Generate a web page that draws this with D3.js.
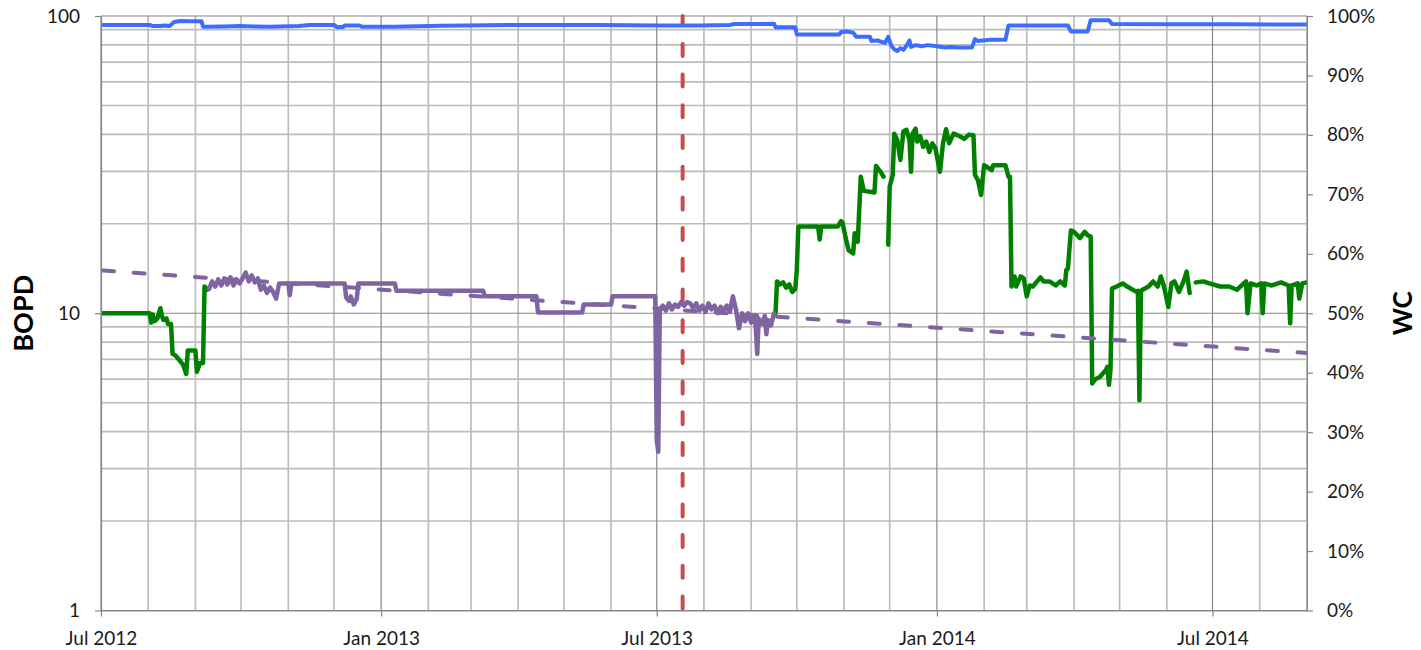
<!DOCTYPE html>
<html><head><meta charset="utf-8">
<script src="https://cdn.jsdelivr.net/npm/d3@7"></script>
<style>
body{margin:0;background:#fff;}
svg{display:block;font-family:Lato,"Liberation Sans",sans-serif;}
</style>
</head><body>
<svg id="chart" width="1421" height="650"></svg>
<script>
// ---------------- DATA ----------------
const xDomain = ["2012-07-01", "2014-09-01"];
const xMajorTicks = ["2012-07-01", "2013-01-01", "2013-07-01", "2014-01-01", "2014-07-01"];
const leftTicks = [1, 10, 100];
const rightTicks = [0, 0.1, 0.2, 0.3, 0.4, 0.5, 0.6, 0.7, 0.8, 0.9, 1.0];
const leftTitle = "BOPD";
const rightTitle = "WC";
const markerDate = "2013-07-18";

// Oil rate (green), BOPD, log axis; null = gap
const greenBopd = [
["2012-07-01",10.0],["2012-08-02",10.0],["2012-08-03",9.3],["2012-08-04",9.9],["2012-08-05",9.4],
["2012-08-07",9.6],["2012-08-09",10.4],["2012-08-10",9.8],["2012-08-11",9.5],["2012-08-13",9.6],
["2012-08-14",9.2],["2012-08-16",9.2],["2012-08-17",7.3],["2012-08-19",7.2],["2012-08-21",7.0],
["2012-08-22",6.9],["2012-08-24",6.7],["2012-08-26",6.25],["2012-08-27",7.5],["2012-09-01",7.5],
["2012-09-02",6.35],["2012-09-04",6.8],["2012-09-06",6.8],["2012-09-07",12.3],["2012-09-09",12.0],
["2012-09-10",12.1],["2012-09-11",null],
["2013-09-17",10.0],["2013-09-18",12.8],["2013-09-20",12.5],["2013-09-22",12.7],["2013-09-24",12.2],
["2013-09-26",12.5],["2013-09-28",11.8],["2013-09-30",12.1],["2013-10-01",14.0],["2013-10-02",19.6],
["2013-10-15",19.6],["2013-10-16",17.7],["2013-10-17",19.6],["2013-10-28",19.6],["2013-10-30",20.4],
["2013-10-31",20.2],["2013-11-02",18.0],["2013-11-04",16.3],["2013-11-07",15.9],["2013-11-08",18.6],
["2013-11-10",17.4],["2013-11-12",28.8],["2013-11-14",25.8],["2013-11-21",25.5],["2013-11-22",31.3],
["2013-11-25",29.9],["2013-11-27",28.8],["2013-11-28",null],
["2013-11-30",17.0],["2013-12-01",26.7],["2013-12-03",29.2],["2013-12-04",40.2],["2013-12-06",38.2],
["2013-12-08",32.8],["2013-12-10",40.9],["2013-12-12",41.4],["2013-12-14",38.2],["2013-12-15",29.9],
["2013-12-16",40.2],["2013-12-18",41.8],["2013-12-19",37.8],["2013-12-21",39.4],["2013-12-23",36.3],
["2013-12-25",37.8],["2013-12-27",34.9],["2013-12-29",37.3],["2013-12-31",35.9],["2014-01-03",29.9],
["2014-01-05",37.3],["2014-01-07",41.6],["2014-01-09",37.3],["2014-01-12",40.2],["2014-01-16",39.4],
["2014-01-19",38.6],["2014-01-22",39.9],["2014-01-25",39.7],["2014-01-26",29.2],["2014-01-28",28.0],
["2014-01-30",25.0],["2014-02-01",31.5],["2014-02-06",30.3],["2014-02-07",31.5],["2014-02-15",31.5],
["2014-02-17",28.8],["2014-02-18",28.8],["2014-02-19",12.3],["2014-02-21",13.3],["2014-02-22",12.3],
["2014-02-25",13.3],["2014-02-27",13.1],["2014-03-01",11.4],["2014-03-03",12.4],["2014-03-05",12.3],
["2014-03-10",13.2],["2014-03-12",12.8],["2014-03-16",12.8],["2014-03-20",12.4],["2014-03-23",12.8],
["2014-03-26",12.4],["2014-03-27",14.0],["2014-03-28",14.1],["2014-03-30",19.0],["2014-04-01",18.8],
["2014-04-05",17.9],["2014-04-08",18.8],["2014-04-10",18.3],["2014-04-12",18.1],["2014-04-13",5.8],
["2014-04-15",6.0],["2014-04-18",6.1],["2014-04-22",6.45],["2014-04-23",6.6],["2014-04-24",5.75],
["2014-04-25",6.45],["2014-04-26",12.1],["2014-04-29",12.3],["2014-05-03",12.6],["2014-05-06",12.3],
["2014-05-12",11.8],["2014-05-13",11.9],["2014-05-14",5.1],["2014-05-15",11.9],["2014-05-20",12.3],
["2014-05-23",12.8],["2014-05-26",12.3],["2014-05-28",13.3],["2014-05-30",12.4],["2014-06-02",10.5],
["2014-06-04",12.6],["2014-06-06",12.8],["2014-06-09",11.8],["2014-06-12",12.8],["2014-06-14",13.8],
["2014-06-16",11.7],["2014-06-18",null],
["2014-06-20",12.7],["2014-06-25",12.8],["2014-06-29",12.6],["2014-07-06",12.3],["2014-07-12",12.3],
["2014-07-17",12.0],["2014-07-23",12.8],["2014-07-24",10.0],["2014-07-26",12.6],["2014-07-30",12.4],
["2014-08-02",12.6],["2014-08-03",10.0],["2014-08-04",12.6],["2014-08-09",12.4],["2014-08-15",12.7],
["2014-08-20",12.4],["2014-08-21",9.25],["2014-08-22",12.4],["2014-08-26",12.6],["2014-08-27",11.2],
["2014-08-29",12.6],["2014-09-01",12.7]
];

// Oil rate (purple), BOPD, log axis
const purpleBopd = [
["2012-09-10",12.1],["2012-09-12",12.8],["2012-09-14",12.3],["2012-09-16",13.0],["2012-09-18",12.4],
["2012-09-20",13.1],["2012-09-22",12.5],["2012-09-24",13.2],["2012-09-26",12.4],["2012-09-28",13.0],
["2012-09-30",12.6],["2012-10-02",13.1],["2012-10-04",13.7],["2012-10-06",12.8],["2012-10-08",13.4],
["2012-10-10",12.7],["2012-10-12",13.1],["2012-10-14",12.0],["2012-10-16",12.4],["2012-10-18",11.7],
["2012-10-20",12.2],["2012-10-22",11.8],["2012-10-24",11.2],["2012-10-26",12.6],["2012-11-01",12.6],
["2012-11-02",11.5],["2012-11-03",12.6],["2012-12-08",12.6],["2012-12-09",11.3],["2012-12-11",11.0],
["2012-12-12",11.4],["2012-12-14",10.7],["2012-12-16",11.2],["2012-12-17",12.6],["2013-01-10",12.6],
["2013-01-11",11.9],["2013-03-09",11.9],["2013-03-10",11.4],["2013-04-13",11.4],["2013-04-14",10.05],
["2013-05-13",10.05],["2013-05-14",10.7],["2013-06-01",10.7],["2013-06-02",11.4],["2013-06-30",11.4],
["2013-07-01",3.75],["2013-07-02",3.42],["2013-07-03",10.3],["2013-07-05",10.6],["2013-07-07",10.2],
["2013-07-09",10.8],["2013-07-11",10.3],["2013-07-13",10.7],["2013-07-15",10.5],["2013-07-17",10.9],
["2013-07-19",10.6],["2013-07-21",10.9],["2013-07-23",10.8],["2013-07-25",10.4],["2013-07-27",10.8],
["2013-07-29",10.2],["2013-07-31",10.6],["2013-08-02",10.1],["2013-08-04",10.8],["2013-08-06",10.3],
["2013-08-08",10.6],["2013-08-10",10.0],["2013-08-12",10.5],["2013-08-14",10.2],["2013-08-16",10.6],
["2013-08-18",10.1],["2013-08-20",11.4],["2013-08-22",10.3],["2013-08-24",8.9],["2013-08-26",10.0],
["2013-08-28",9.4],["2013-08-30",10.0],["2013-09-01",9.3],["2013-09-03",9.8],["2013-09-04",9.0],
["2013-09-05",7.3],["2013-09-06",9.6],["2013-09-08",9.2],["2013-09-10",9.8],["2013-09-11",8.5],
["2013-09-12",9.5],["2013-09-14",9.1],["2013-09-16",10.0]
];

// Exponential decline trend (dashed purple)
const trendBopd = [["2012-07-01",13.93],["2014-09-01",7.35]];

// Water cut (blue), right axis, fraction
const waterCut = [
["2012-07-01",0.985],["2012-08-02",0.985],["2012-08-04",0.983],["2012-08-09",0.983],["2012-08-12",0.984],
["2012-08-15",0.983],["2012-08-18",0.990],["2012-08-22",0.9915],["2012-08-28",0.991],["2012-09-05",0.991],
["2012-09-06",0.982],["2012-09-20",0.9825],["2012-09-30",0.983],["2012-10-10",0.9825],["2012-10-20",0.982],
["2012-11-08",0.983],["2012-11-15",0.985],["2012-12-01",0.985],["2012-12-03",0.9815],["2012-12-07",0.9815],
["2012-12-08",0.984],["2012-12-18",0.984],["2012-12-19",0.982],["2013-01-10",0.982],["2013-02-10",0.9835],
["2013-03-31",0.985],["2013-05-24",0.985],["2013-07-01",0.984],["2013-07-29",0.984],["2013-08-18",0.985],
["2013-08-21",0.9865],["2013-09-05",0.9865],["2013-09-16",0.987],["2013-09-17",0.981],["2013-09-30",0.981],
["2013-10-01",0.969],["2013-10-29",0.969],["2013-10-30",0.973],["2013-11-03",0.974],["2013-11-07",0.972],
["2013-11-09",0.965],["2013-11-18",0.965],["2013-11-19",0.958],["2013-11-23",0.959],["2013-11-26",0.956],
["2013-11-28",0.955],["2013-11-30",0.965],["2013-12-02",0.950],["2013-12-04",0.944],["2013-12-06",0.941],
["2013-12-08",0.946],["2013-12-10",0.943],["2013-12-12",0.950],["2013-12-14",0.959],["2013-12-15",0.948],
["2013-12-18",0.951],["2013-12-22",0.949],["2013-12-26",0.951],["2014-01-01",0.949],["2014-01-06",0.947],
["2014-01-10",0.948],["2014-01-16",0.947],["2014-01-24",0.947],["2014-01-26",0.961],["2014-01-28",0.958],
["2014-02-05",0.960],["2014-02-15",0.960],["2014-02-17",0.984],["2014-03-28",0.984],["2014-03-30",0.974],
["2014-04-10",0.974],["2014-04-12",0.993],["2014-04-24",0.993],["2014-04-26",0.9865],["2014-06-01",0.9862],
["2014-07-15",0.986],["2014-09-01",0.9855]
];

// ---------------- CHART ----------------
const parse = d3.utcParse("%Y-%m-%d");
const P = {l: 101, t: 16, r: 1306.9, b: 610.5};
const svg = d3.select("#chart");

const x = d3.scaleUtc().domain(xDomain.map(parse)).range([P.l, P.r]);
const yL = d3.scaleLog().domain([1, 100]).range([P.b, P.t]);
const yR = d3.scaleLinear().domain([0, 1]).range([P.b, P.t]);

const minorC = "#bcbcbc", majorC = "#888888", axisC = "#868686";

svg.append("defs").append("clipPath").attr("id", "plot")
  .append("rect").attr("x", P.l).attr("y", P.t - 3).attr("width", P.r - P.l).attr("height", P.b - P.t + 3);

// grid
const grid = svg.append("g");
const months = d3.utcMonth.range(parse(xDomain[0]), d3.utcDay.offset(parse(xDomain[1]), 1));
const isMajorMonth = d => d.getUTCMonth() % 6 === 0;
const logVals = [];
[1, 10].forEach(dec => { for (let k = 1; k <= 9; k++) logVals.push(dec * k); });
logVals.push(100);
const isMajorLog = v => v === 1 || v === 10 || v === 100;

grid.selectAll("line.hmin").data(logVals.filter(v => !isMajorLog(v))).join("line")
  .attr("x1", P.l).attr("x2", P.r).attr("y1", d => yL(d)).attr("y2", d => yL(d))
  .attr("stroke", minorC).attr("stroke-width", 1.7);
grid.selectAll("line.vmin").data(months.filter(d => !isMajorMonth(d))).join("line")
  .attr("x1", d => x(d)).attr("x2", d => x(d)).attr("y1", P.t).attr("y2", P.b)
  .attr("stroke", minorC).attr("stroke-width", 1.7);
grid.selectAll("line.hmaj").data(logVals.filter(isMajorLog)).join("line")
  .attr("x1", P.l).attr("x2", P.r).attr("y1", d => yL(d)).attr("y2", d => yL(d))
  .attr("stroke", majorC).attr("stroke-width", 1.2);
grid.selectAll("line.vmaj").data(months.filter(isMajorMonth)).join("line")
  .attr("x1", d => x(d)).attr("x2", d => x(d)).attr("y1", P.t).attr("y2", P.b)
  .attr("stroke", majorC).attr("stroke-width", 1.2);

const plot = svg.append("g").attr("clip-path", "url(#plot)");

// red marker line (drawn bottom to top)
plot.append("line")
  .attr("x1", x(parse(markerDate))).attr("x2", x(parse(markerDate)))
  .attr("y1", yL(1)).attr("y2", yL(100))
  .attr("stroke", "#C0504D").attr("stroke-width", 4)
  .attr("stroke-linecap", "round").attr("stroke-dasharray", "12,18.7").attr("stroke-dashoffset", -2);

const lineL = d3.line().defined(d => d[1] != null).x(d => x(parse(d[0]))).y(d => yL(d[1]));
const lineR = d3.line().defined(d => d[1] != null).x(d => x(parse(d[0]))).y(d => yR(d[1]));

plot.append("path").datum(waterCut).attr("d", lineR)
  .attr("fill", "none").attr("stroke", "#3D6DFF").attr("stroke-width", 4)
  .attr("stroke-linejoin", "round");

plot.append("path").datum(greenBopd).attr("d", lineL)
  .attr("fill", "none").attr("stroke", "#008000").attr("stroke-width", 4.5)
  .attr("stroke-linejoin", "round").attr("stroke-linecap", "round");

plot.append("path").datum(purpleBopd).attr("d", lineL)
  .attr("fill", "none").attr("stroke", "#8064A2").attr("stroke-width", 4.5)
  .attr("stroke-linejoin", "round").attr("stroke-linecap", "round");

plot.append("path").datum(trendBopd).attr("d", lineL)
  .attr("fill", "none").attr("stroke", "#8064A2").attr("stroke-width", 4)
  .attr("stroke-linecap", "round").attr("stroke-dasharray", "11,19.7").attr("stroke-dashoffset", -2);

// axes
const fontSize = 19;
function styleAxis(g) {
  g.select(".domain").attr("stroke", axisC).attr("stroke-width", 1.2);
  g.selectAll(".tick line").attr("stroke", axisC).attr("stroke-width", 1.2);
  g.selectAll(".tick text").attr("fill", "#1a1a1a")
    .style("font-family", "Lato, 'Liberation Sans', sans-serif").style("font-size", fontSize + "px");
}

svg.append("g").attr("transform", `translate(${P.l},0)`)
  .call(d3.axisLeft(yL).tickValues(leftTicks).tickFormat(d3.format("d")).tickSize(6).tickSizeOuter(0).tickPadding(15))
  .call(styleAxis);

svg.append("g").attr("transform", `translate(0,${P.b})`)
  .call(d3.axisBottom(x).tickValues(xMajorTicks.map(parse)).tickFormat(d3.utcFormat("%b %Y")).tickSize(6).tickSizeOuter(0).tickPadding(15))
  .call(styleAxis);

svg.append("g").attr("transform", `translate(${P.r},0)`)
  .call(d3.axisRight(yR).tickValues(rightTicks).tickFormat(d3.format(".0%")).tickSize(6).tickSizeOuter(0).tickPadding(14))
  .call(styleAxis);

// axis titles
svg.append("text").text(leftTitle)
  .attr("transform", `translate(33,${(P.t + P.b) / 2}) rotate(-90)`)
  .attr("text-anchor", "middle").attr("font-weight", "bold").attr("font-size", 27).attr("fill", "#000");
svg.append("text").text(rightTitle)
  .attr("transform", `translate(1412,${(P.t + P.b) / 2}) rotate(-90)`)
  .attr("text-anchor", "middle").attr("font-weight", "bold").attr("font-size", 26).attr("fill", "#000");
</script>
</body></html>
